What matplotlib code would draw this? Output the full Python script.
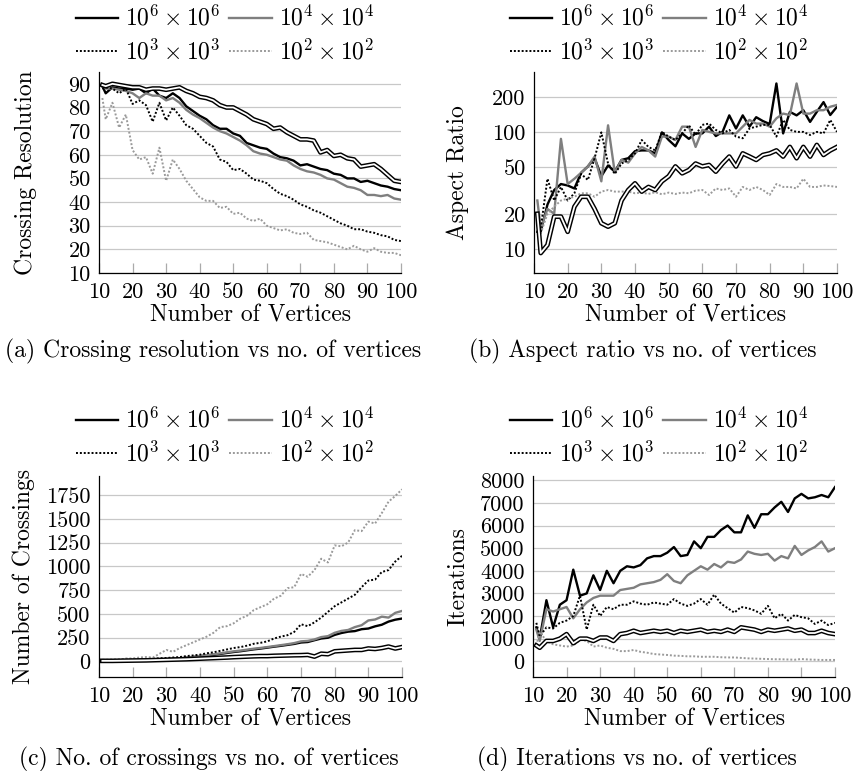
import numpy as np
import matplotlib
matplotlib.use("Agg")
import matplotlib.pyplot as plt
from matplotlib.ticker import FixedLocator, FixedFormatter, NullLocator

plt.rcParams["font.family"] = "serif"
plt.rcParams["font.serif"] = ["cmr10", "DejaVu Serif"]
plt.rcParams["mathtext.fontset"] = "cm"
plt.rcParams["axes.unicode_minus"] = False

# number of vertices
vertices = [11, 12, 14, 16, 18, 20, 22, 24, 26, 28, 30, 32, 34, 36, 38, 40, 42, 44, 46, 48,
            50, 52, 54, 56, 58, 60, 62, 64, 66, 68, 70, 72, 74, 76, 78, 80, 82, 84, 86, 88,
            90, 92, 94, 96, 98, 100]

grid_labels = [r"$10^6 \times 10^6$", r"$10^4 \times 10^4$", r"$10^3 \times 10^3$", r"$10^2 \times 10^2$"]

# (a) crossing resolution
res_1e6 = [89, 86, 88.5, 88, 88, 87.5, 88, 86, 88, 85, 84, 86, 84, 80.5, 78.5, 76.5, 75, 72.5, 71, 71,
           69, 68, 65, 64, 63, 62.5, 60.5, 59, 58.5, 57.5, 55.5, 56, 55, 54, 53.5, 52, 51.5, 50, 50, 48.5,
           49, 48, 47, 46.5, 45.5, 45]
res_1e4 = [89, 88, 88, 87.5, 87, 86, 84, 86, 85, 85, 83, 84, 82, 79, 77, 75.5, 73.5, 71.5, 70, 69,
           67.5, 66, 64, 61.5, 60.5, 60, 59, 58, 57.5, 55.5, 54, 53, 52.5, 51.5, 50, 49.5, 48, 46.5, 46, 45,
           43, 43, 42.5, 43, 41.5, 41]
res_1e3 = [88, 88.5, 88, 86, 88, 81.5, 83, 81, 74, 82, 74.5, 80, 76.5, 72.5, 71, 68, 65, 63.5, 58, 57,
           53.5, 54, 52, 49.5, 49, 48, 45.5, 43.5, 42.5, 41, 39, 38, 36.5, 35.5, 34, 32.5, 31, 30, 28.5, 28.5,
           27.5, 27, 26, 25.5, 24, 23.5]
res_1e2 = [84, 75, 82, 71.5, 77, 62, 58, 59, 52, 63, 49, 58, 54, 49, 45.5, 42, 40.5, 40.5, 37.5, 38,
           35, 35.5, 33, 32, 33, 30, 29, 28, 28.5, 27, 26.5, 27, 24, 23.5, 23, 22, 21, 20, 21.5, 20,
           19, 20.5, 19, 18.5, 18.5, 17.5]
res_ref = [89.5, 89, 90, 89.5, 89, 88.5, 88.5, 87.5, 88, 88, 87.5, 88, 88.5, 87, 86, 84.5, 84, 83, 81, 80,
           80, 78.5, 77, 75, 74, 73, 71, 71.5, 69.5, 68, 66.5, 66.5, 66, 61, 62, 59.5, 60, 58.5, 58, 55,
           55.5, 56, 54, 51.5, 49, 48.5]

# (b) aspect ratio
asp_1e6 = [14, 14, 24, 32, 36, 35, 33, 45, 51, 60, 42, 52, 46, 58, 60, 69, 70, 70, 66, 100,
           86, 76, 98, 88, 98, 98, 112, 93, 101, 140, 108, 140, 112, 135, 125, 118, 263, 98, 150, 140,
           155, 123, 150, 182, 141, 166]
asp_1e4 = [26, 15, 22, 20, 88, 36, 40, 45, 51, 62, 38, 115, 45, 58, 55, 66, 75, 70, 62, 92,
           92, 86, 112, 112, 75, 105, 101, 98, 98, 98, 98, 112, 128, 119, 119, 112, 132, 145, 141, 263,
           145, 145, 155, 155, 166, 172]
asp_1e3 = [14.5, 15, 40, 26, 34, 26, 30, 44, 39, 60, 100, 54, 44, 54, 58, 66, 86, 75, 70, 101,
           92, 86, 98, 115, 95, 116, 119, 105, 98, 105, 92, 89, 108, 112, 116, 116, 92, 128, 105, 101,
           101, 95, 101, 98, 128, 101]
asp_1e2 = [20, 13.6, 20, 23, 26, 27, 28, 30, 30, 28, 31, 32, 31, 31, 31, 30, 30.4, 29.6, 30.6, 29.4,
           30.4, 29.6, 30.4, 30, 31.6, 32, 29, 33, 32, 33, 28, 34, 32, 34, 32, 29, 36, 34, 34, 33,
           40, 34, 34, 35, 34.6, 34]
asp_ref = [20, 9.2, 10.8, 18.9, 18.9, 14, 23, 28, 28, 22, 16.6, 15.5, 16.6, 26, 32, 36.5, 31, 34, 32, 38,
           42, 51, 44.5, 47.5, 54, 51, 52.5, 46, 54, 62, 51, 66, 62, 58, 64, 66, 70, 62, 75, 60,
           75, 62, 78, 64, 70, 75]

# (c) number of crossings
cr_1e6 = [12, 12, 12, 12, 12, 13, 14, 15, 16, 18, 22, 26, 31, 37, 44, 53, 60, 68, 78, 88,
          98, 106, 116, 126, 134, 144, 154, 163, 173, 183, 198, 203, 222, 240, 248, 278, 298, 312, 318, 338,
          345, 368, 385, 418, 438, 450]
cr_1e4 = [12, 12, 12, 12, 12, 13, 14, 15, 17, 19, 23, 28, 33, 40, 48, 58, 66, 74, 84, 95,
          105, 113, 123, 133, 141, 150, 160, 170, 180, 192, 210, 215, 230, 255, 265, 300, 320, 330, 360, 380,
          430, 440, 470, 460, 510, 530]
cr_1e3 = [15, 15, 16, 17, 18, 20, 22, 25, 28, 32, 35, 40, 45, 55, 62, 70, 85, 95, 110, 125,
          140, 150, 165, 185, 195, 210, 240, 260, 275, 310, 390, 370, 410, 460, 520, 580, 620, 660, 700, 780,
          850, 860, 940, 960, 1050, 1110]
cr_1e2 = [10, 10, 12, 15, 30, 30, 40, 45, 40, 80, 120, 100, 140, 170, 200, 230, 260, 300, 360, 370,
          400, 450, 480, 540, 570, 600, 660, 690, 770, 780, 920, 890, 960, 1080, 1040, 1220, 1210, 1250, 1380, 1370,
          1470, 1450, 1560, 1680, 1740, 1810]
cr_ref = [5, 5, 5, 6, 7, 8, 9, 10, 12, 14, 16, 18, 20, 22, 25, 28, 31, 34, 37, 40,
          44, 47, 50, 53, 55, 55, 58, 60, 62, 64, 65, 68, 50, 80, 75, 105, 110, 115, 120, 120,
          135, 130, 140, 155, 135, 150]

# (d) iterations
it_1e6 = [1500, 1000, 2700, 1500, 2500, 2700, 4050, 2900, 3000, 3800, 3150, 4000, 3450, 4000, 4200, 4150, 4250, 4550, 4650, 4650,
          4800, 5050, 4650, 4700, 5300, 5000, 5500, 5500, 5800, 6000, 5700, 5700, 6450, 5900, 6500, 6500, 6800, 7050, 6600, 7200,
          7400, 7200, 7250, 7350, 7250, 7700]
it_1e4 = [1400, 900, 2300, 2200, 2300, 2400, 1900, 2300, 2600, 2800, 2900, 2900, 2900, 3150, 3200, 3250, 3400, 3450, 3500, 3600,
          3850, 3550, 3450, 3800, 4000, 4200, 4050, 4300, 4150, 4400, 4350, 4500, 4850, 4750, 4700, 4750, 4450, 4650, 4550, 5100,
          4700, 4900, 5050, 5300, 4850, 5000]
it_1e3 = [1700, 1100, 1500, 1450, 1700, 1800, 2000, 2900, 1400, 2500, 2000, 2400, 2300, 2500, 2500, 2650, 2550, 2500, 2600, 2550,
          2500, 2750, 2550, 2450, 2550, 2750, 2500, 2950, 2550, 2350, 2150, 2400, 2350, 2250, 2100, 2450, 1900, 2100, 1800, 2050,
          1950, 1900, 1650, 1800, 1600, 1700]
it_1e2 = [700, 1300, 900, 750, 700, 650, 700, 950, 900, 650, 700, 600, 550, 450, 450, 500, 420, 380, 320, 300,
          280, 250, 240, 220, 220, 200, 200, 200, 180, 170, 170, 150, 130, 120, 110, 100, 90, 90, 80, 70,
          100, 80, 70, 60, 60, 60]
it_ref = [700, 600, 900, 900, 1000, 1200, 800, 1000, 1000, 900, 1050, 1050, 900, 1200, 1250, 1350, 1250, 1300, 1350, 1300,
          1350, 1250, 1350, 1300, 1350, 1400, 1300, 1350, 1300, 1400, 1300, 1500, 1450, 1400, 1300, 1400, 1350, 1400, 1450, 1350,
          1400, 1250, 1250, 1350, 1250, 1200]

panels = [
    dict(series=[res_1e6, res_1e4, res_1e3, res_1e2], ref=res_ref, ylabel="Crossing Resolution",
         yticks=[10, 20, 30, 40, 50, 60, 70, 80, 90], ylim=(10, 95), log=False,
         caption="(a) Crossing resolution vs no. of vertices"),
    dict(series=[asp_1e6, asp_1e4, asp_1e3, asp_1e2], ref=asp_ref, ylabel="Aspect Ratio",
         yticks=[10, 20, 50, 100, 200], ylim=(6.2, 330), log=True,
         caption="(b) Aspect ratio vs no. of vertices"),
    dict(series=[cr_1e6, cr_1e4, cr_1e3, cr_1e2], ref=cr_ref, ylabel="Number of Crossings",
         yticks=[0, 250, 500, 750, 1000, 1250, 1500, 1750], ylim=(-165, 1950), log=False,
         caption="(c) No. of crossings vs no. of vertices"),
    dict(series=[it_1e6, it_1e4, it_1e3, it_1e2], ref=it_ref, ylabel="Iterations",
         yticks=[0, 1000, 2000, 3000, 4000, 5000, 6000, 7000, 8000], ylim=(-694, 8190), log=False,
         caption="(d) Iterations vs no. of vertices"),
]

W, H = 856, 771
fig = plt.figure(figsize=(W / 100, H / 100), dpi=100)

# axes boxes in pixels: left, right, top, bottom
boxes = [(99, 401, 72, 273), (534, 837, 72, 273), (99, 402, 476, 677), (533, 835, 476, 677)]
legend_pos = [(225, 35), (659, 35), (225, 437), (659, 437)]
caption_pos = [(213, 351), (643, 351), (209, 759), (637, 759)]
ylabel_x = [37, 469, 35, 469]

styles = [dict(color="black", lw=1.7, ls="-"),
          dict(color="#7f7f7f", lw=1.7, ls="-"),
          dict(color="black", lw=1.4, ls=(0, (1, 1))),
          dict(color="#9a9a9a", lw=1.4, ls=(0, (1, 1)))]

fs = 16

for i, p in enumerate(panels):
    l, r, t, b = boxes[i]
    ax = fig.add_axes([l / W, 1 - b / H, (r - l) / W, (b - t) / H])
    if p["log"]:
        ax.set_yscale("log")
    handles = []
    for s, st, lab in zip(p["series"], styles, grid_labels):
        handles += ax.plot(vertices, s, label=lab, **st)
    ax.plot(vertices, p["ref"], color="black", lw=3.4, solid_joinstyle="round")
    ax.plot(vertices, p["ref"], color="white", lw=1.3, solid_joinstyle="round")

    ax.set_xlim(10, 100)
    ax.set_ylim(*p["ylim"])
    ax.xaxis.set_major_locator(FixedLocator(range(10, 101, 10)))
    ax.yaxis.set_major_locator(FixedLocator(p["yticks"]))
    ax.yaxis.set_major_formatter(FixedFormatter([str(v) for v in p["yticks"]]))
    ax.yaxis.set_minor_locator(NullLocator())
    ax.xaxis.set_minor_locator(NullLocator())
    ax.grid(axis="y", color="#c8c8c8", lw=0.9)
    ax.set_axisbelow(True)
    ax.tick_params(axis="x", direction="in", length=7, color="#aaaaaa", width=0.9,
                   labelsize=fs, pad=7)
    ax.tick_params(axis="y", length=0, labelsize=fs, pad=6)
    for sp in ["top", "right"]:
        ax.spines[sp].set_visible(False)
    for sp in ["left", "bottom"]:
        ax.spines[sp].set_linewidth(0.9)

    ax.set_xlabel("Number of Vertices", fontsize=fs + 1, labelpad=0)
    ax.xaxis.set_label_coords((l + r) / 2 / W, 1 - (b + 31) / H, transform=fig.transFigure)
    ax.set_ylabel(p["ylabel"], fontsize=fs + 1)
    ax.yaxis.set_label_coords(ylabel_x[i] / W, 1 - (t + b) / 2 / H, transform=fig.transFigure)

    # row-major legend order
    order = [handles[0], handles[2], handles[1], handles[3]]
    lx, ly = legend_pos[i]
    fig.legend(order, [h.get_label() for h in order], loc="center", bbox_to_anchor=(lx / W, 1 - ly / H),
               ncol=2, frameon=False, fontsize=17, handlelength=1.8, handletextpad=0.3,
               columnspacing=0.35, labelspacing=0.35, borderpad=0)

    cx, cy = caption_pos[i]
    fig.text(cx / W, 1 - cy / H, p["caption"], ha="center", va="center", fontsize=17)

fig.savefig("out.png", dpi=100)
